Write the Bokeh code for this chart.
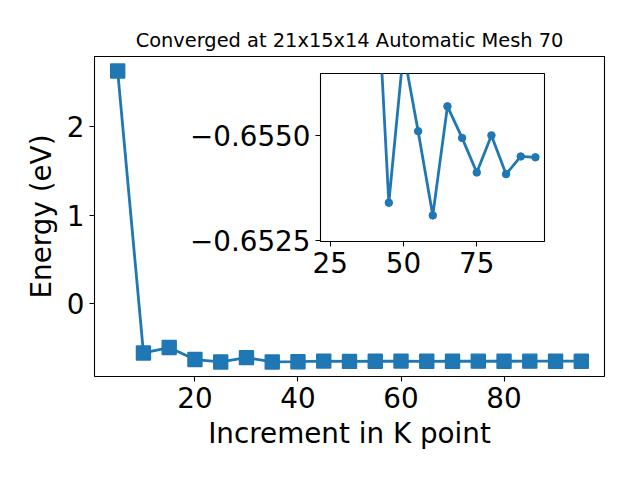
from bokeh.plotting import figure
from bokeh.models import Range1d, FixedTicker, CustomJSTickFormatter
from bokeh.layouts import column
from bokeh.embed import file_html
from bokeh.resources import INLINE

# ---- data ----
kpoints = [5, 10, 15, 20, 25, 30, 35, 40, 45, 50, 55, 60, 65, 70, 75, 80, 85, 90, 95]
energy = [2.632, -0.561, -0.500, -0.636, -0.663, -0.614, -0.663, -0.660,
          -0.65340, -0.65700, -0.65510, -0.65310, -0.65569, -0.65494,
          -0.65412, -0.65500, -0.65408, -0.65450, -0.65448]
inset_start = 7          # inset shows the points from k = 40 onwards
main_xticks = [20, 40, 60, 80]
main_yticks = [0, 1, 2]
inset_xticks = [25, 50, 75]
inset_yticks = [-0.6550, -0.6525]
title_text = "Converged at 21x15x14 Automatic Mesh 70"
xlabel = "Increment in K point"
ylabel = "Energy (eV)"

BLUE = "#1f77b4"
FONT = "DejaVu Sans"
TICK_FS = "27.8px"
LW = 2.8

# common left / right borders so that box alignment has no effect
L, R = 150, 20
SHIFT = 94 - L   # page x of the main figure's left edge (negative)


def style_axes(fig, with_labels):
    fig.grid.visible = False
    fig.outline_line_color = "black"
    fig.outline_line_width = 1.1
    for ax in (fig.xaxis, fig.yaxis):
        ax.axis_line_color = None
        ax.major_tick_line_color = "black"
        ax.major_tick_line_width = 1.1
        ax.major_tick_out = 5
        ax.major_tick_in = 0
        ax.minor_tick_line_color = None
        ax.major_label_text_font = FONT
        ax.major_label_text_font_size = TICK_FS
        ax.major_label_text_color = "black"
        ax.major_label_standoff = 5
        if with_labels:
            ax.axis_label_text_font = FONT
            ax.axis_label_text_font_size = TICK_FS
            ax.axis_label_text_font_style = "normal"
            ax.axis_label_text_color = "black"
            ax.axis_label_standoff = 6


# ---- main figure ----
xmin, xmax = min(kpoints), max(kpoints)
ymin, ymax = min(energy), max(energy)
xm = 0.05 * (xmax - xmin)
ym = 0.05 * (ymax - ymin)

MT, MB = 56, 96
MFW, MFH = 510, 320
MW, MH = L + MFW + R, MT + MFH + MB
p = figure(width=MW, height=MH, output_backend="svg",
           toolbar_location=None,
           x_range=Range1d(xmin - xm, xmax + xm), y_range=Range1d(ymin - ym, ymax + ym),
           min_border_left=L, min_border_right=R, min_border_top=MT,
           min_border_bottom=MB,
           styles={"position": "absolute", "left": "0px", "top": "0px"})
p.background_fill_color = "white"
p.border_fill_color = None
style_axes(p, True)

p.title.text = title_text
p.title.text_font = FONT
p.title.text_font_size = "19.4px"
p.title.text_font_style = "normal"
p.title.align = "center"
p.title.text_color = "black"

p.xaxis.ticker = FixedTicker(ticks=main_xticks)
p.yaxis.ticker = FixedTicker(ticks=main_yticks)
p.xaxis.axis_label = xlabel
p.yaxis.axis_label = ylabel

p.line(kpoints, energy, line_color=BLUE, line_width=LW)
p.scatter(kpoints, energy, marker="square", size=14, fill_color=BLUE,
          line_color=BLUE, line_width=1.4)

# ---- inset figure ----
IT, IB = 10, 50
FW, FH = 224, 168
inset = figure(width=L + FW + R, height=IT + FH + IB, output_backend="svg",
               toolbar_location=None,
               x_range=Range1d(21.7, 98.1), y_range=Range1d(-0.65248, -0.65647),
               min_border_left=L, min_border_right=R, min_border_top=IT,
               min_border_bottom=IB,
               styles={"position": "absolute", "left": f"{320 - L - SHIFT}px",
                       "top": f"{73 - IT}px"})
inset.background_fill_color = "white"
inset.border_fill_color = None
style_axes(inset, False)
inset.xaxis.ticker = FixedTicker(ticks=inset_xticks)
inset.yaxis.ticker = FixedTicker(ticks=inset_yticks)
inset.yaxis.formatter = CustomJSTickFormatter(
    code="return tick.toFixed(4).replace('-', '\u2212');")

ix = kpoints[inset_start:]
iy = energy[inset_start:]
inset.line(ix, iy, line_color=BLUE, line_width=LW)
inset.scatter(ix, iy, marker="circle", size=7.5, fill_color=BLUE,
              line_color=BLUE, line_width=1)

root = column(p, inset, width=MW, height=MH,
              styles={"position": "relative", "left": f"{SHIFT}px"})

with open("out.html", "w") as f:
    f.write(file_html(root, INLINE))
